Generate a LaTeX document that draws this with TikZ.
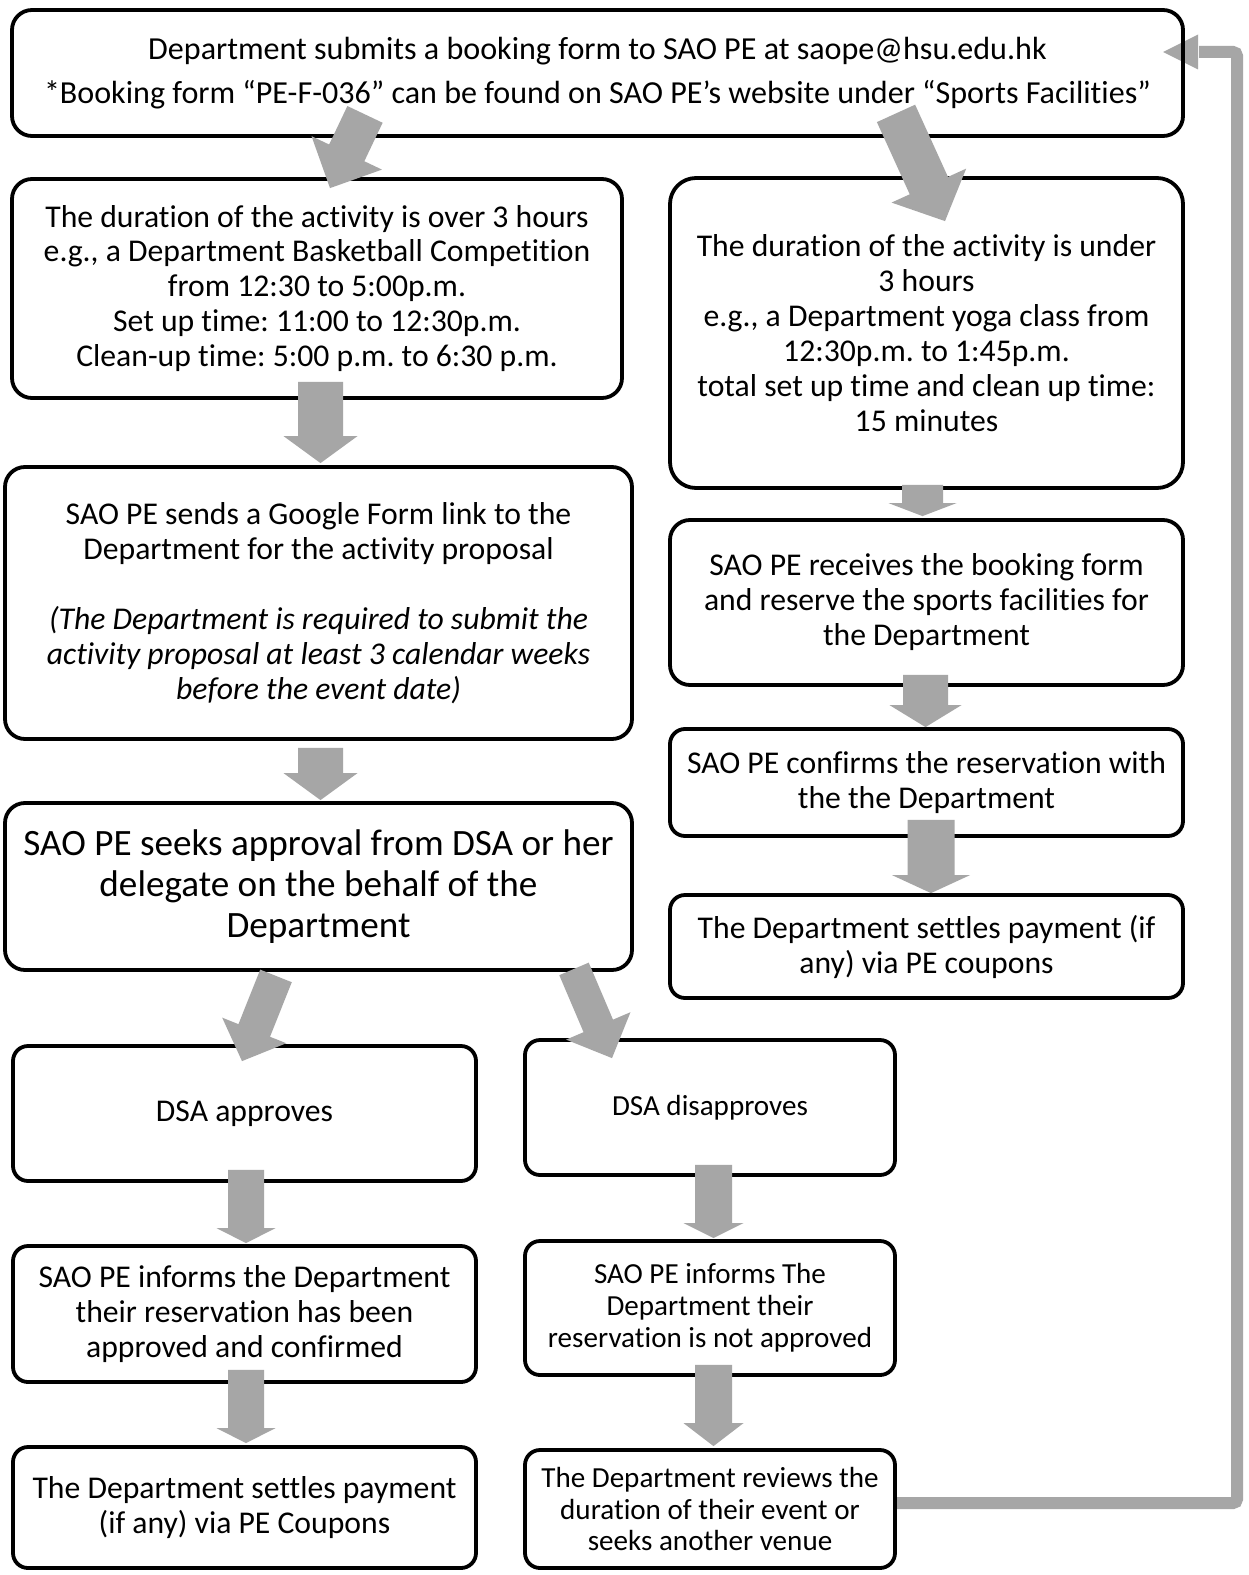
\documentclass[tikz,border=0pt]{standalone}
\usepackage{fontspec}
\setmainfont{Carlito}[Ligatures=NoCommon]
\usetikzlibrary{calc}
\definecolor{arrowgray}{HTML}{A6A6A6}
\frenchspacing
\newcommand\fa{\fontsize{31.8}{35.1}\selectfont}
\newcommand\fb{\fontsize{29.2}{32.1}\selectfont}
\newcommand\fc{\fontsize{37.3}{41.2}\selectfont}
\newcommand\fd{\fontsize{32.2}{44.2}\selectfont}
\newcommand\blkarrow[5]{%
  \coordinate (ba-s) at #1;
  \coordinate (ba-e) at #2;
  \coordinate (ba-b) at ($(ba-e)!#5!(ba-s)$);
  \fill[arrowgray] ($(ba-s)!#3!90:(ba-e)$) -- ($(ba-b)!#3!-90:(ba-s)$) -- ($(ba-b)!#4!-90:(ba-s)$) -- (ba-e) -- ($(ba-b)!#4!90:(ba-s)$) -- ($(ba-b)!#3!90:(ba-s)$) -- ($(ba-s)!#3!-90:(ba-e)$) -- cycle;}
\begin{document}
\begin{tikzpicture}[x=1bp,y=-1bp,
  box/.style={draw=black, line width=3.8bp, rounded corners=20bp, align=center, inner sep=0pt, font=\fa},
  sbox/.style={box, rounded corners=15bp},
  retline/.style={draw=arrowgray, line width=12bp, rounded corners=4bp}]
\fill[white] (0,0) rectangle (1248,1575);
\useasboundingbox (0,0) rectangle (1248,1575);

% return connector (drawn first, under box borders)
\coordinate (rx) at (1237,0);
\node[inner sep=0pt, minimum width=1171bp, minimum height=126bp] (b1ghost) at (597.5,73) {};
\coordinate (rtip) at ($(b1ghost.east)+(-20,-21)$);
\node[inner sep=0pt, minimum width=370bp, minimum height=118bp] (b14ghost) at (710,1509) {};
\coordinate (rstart) at ($(b14ghost.east)+(0,-6)$);
\draw[retline] (rstart) -- (rstart -| rx) -- (rx |- rtip) -- ($(rtip)+(36,0)$);
\fill[arrowgray] ($(rtip)+(35,-17.5)$) -- (rtip) -- ($(rtip)+(35,17.5)$) -- cycle;

% boxes
\node[box, font=\fd, minimum width=1171bp, minimum height=126bp] (b1) at (597.5,73)
  {Department submits a booking form to SAO PE at saope@hsu.edu.hk\\*Booking form “PE-F-036” can be found on SAO PE’s website under “Sports Facilities”};
\node[box, minimum width=610bp, minimum height=219bp] (b2) at (317,288.5)
  {The duration of the activity is over 3 hours\\e.g., a Department Basketball Competition\\from 12:30 to 5:00p.m.\\Set up time: 11:00 to 12:30p.m.\\Clean-up time: 5:00 p.m. to 6:30 p.m.};
\node[box, rounded corners=26bp, minimum width=513bp, minimum height=310bp] (b3) at (926.5,333)
  {The duration of the activity is under\\3 hours\\e.g., a Department yoga class from\\12:30p.m. to 1:45p.m.\\total set up time and clean up time:\\15 minutes};
\node[box, minimum width=627bp, minimum height=272bp] (b4) at (318.5,603)
  {SAO PE sends a Google Form link to the\\Department for the activity proposal\\[35bp]\textit{(The Department is required to submit the}\\\textit{activity proposal at least 3 calendar weeks}\\\textit{before the event date)}};
\node[box, font=\fc, minimum width=627bp, minimum height=167bp] (b5) at (318.5,886.5)
  {SAO PE seeks approval from DSA or her\\delegate on the behalf of the\\Department};
\node[sbox, rounded corners=20bp, minimum width=513bp, minimum height=165bp] (b6) at (926.5,602.5)
  {SAO PE receives the booking form\\and reserve the sports facilities for\\the Department};
\node[sbox, minimum width=513bp, minimum height=107bp] (b7) at (926.5,782.5)
  {SAO PE confirms the reservation with\\the the Department};
\node[sbox, minimum width=513bp, minimum height=103bp] (b8) at (926.5,946.5)
  {The Department settles payment (if\\any) via PE coupons};
\node[sbox, minimum width=463bp, minimum height=135bp] (b9) at (244.5,1113.5)
  {DSA approves};
\node[sbox, font=\fb, minimum width=370bp, minimum height=135bp] (b10) at (710,1107.5)
  {DSA disapproves};
\node[sbox, minimum width=463bp, minimum height=136bp] (b11) at (244.5,1314)
  {SAO PE informs the Department\\their reservation has been\\approved and confirmed};
\node[sbox, font=\fb, minimum width=370bp, minimum height=134bp] (b12) at (710,1308)
  {SAO PE informs The\\Department their\\reservation is not approved};
\node[sbox, minimum width=463bp, minimum height=121bp] (b13) at (244.5,1507.5)
  {The Department settles payment\\(if any) via PE Coupons};
\node[sbox, font=\fb, minimum width=370bp, minimum height=118bp] (b14) at (710,1509)
  {The Department reviews the\\duration of their event or\\seeks another venue};

% block arrows
\blkarrow{($(b1.south)+(-232.5,-23.5)$)}{($(b2.north)+(13,11)$)}{19.5bp}{39bp}{39bp}
\blkarrow{($(b1.south)+(298.5,-24.5)$)}{($(b3.north)+(18.5,45)$)}{21bp}{41bp}{39bp}
\blkarrow{($(b5.south)+(-42.5,4)$)}{($(b9.north)+(-2.5,17)$)}{17bp}{34.5bp}{33bp}
\blkarrow{($(b5.south)+(255.5,-3)$)}{($(b10.north)+(-98,20)$)}{16bp}{35bp}{35bp}
\blkarrow{($(b2.south)+(3.5,-18)$)}{($(b4.north)+(2,-2)$)}{22.5bp}{37bp}{27bp}
\blkarrow{($(b4.south)+(2,7)$)}{($(b5.north)+(2,-1)$)}{22.5bp}{37bp}{27bp}
\blkarrow{($(b3.south)+(-4,-5)$)}{($(b6.north)+(-4,-2)$)}{20.5bp}{34bp}{13bp}
\blkarrow{($(b6.south)+(-1,-12)$)}{($(b7.north)+(-1,0)$)}{22.5bp}{36bp}{22bp}
\blkarrow{($(b7.south)+(4.5,-18)$)}{($(b8.north)+(4.5,0)$)}{23.5bp}{39bp}{18bp}
\blkarrow{($(b9.south)+(1.5,-13)$)}{($(b11.north)+(1.5,-1)$)}{18bp}{29.5bp}{15bp}
\blkarrow{($(b11.south)+(1.5,-14)$)}{($(b13.north)+(1.5,-2)$)}{18bp}{29.5bp}{15bp}
\blkarrow{($(b10.south)+(3.5,-12)$)}{($(b12.north)+(3.5,-1)$)}{18.5bp}{30bp}{15bp}
\blkarrow{($(b12.south)+(3.5,-12)$)}{($(b14.north)+(3.5,-2)$)}{18.5bp}{30bp}{23bp}
\end{tikzpicture}
\end{document}
